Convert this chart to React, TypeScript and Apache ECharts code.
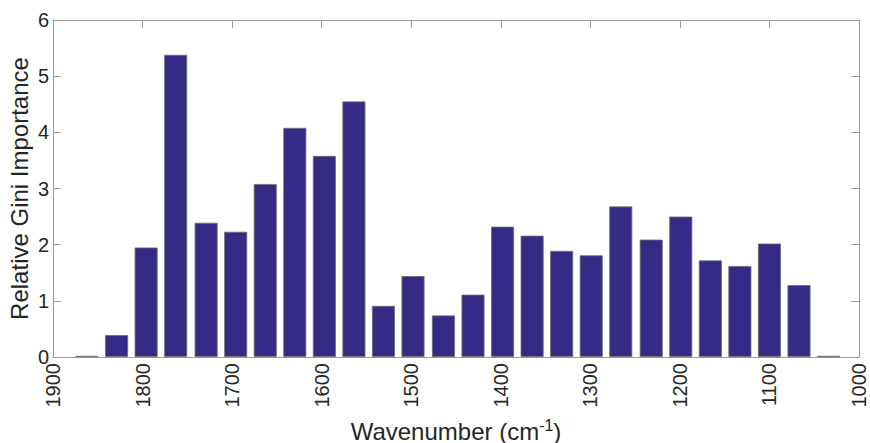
import React, { useEffect, useRef } from "react";
import * as echarts from "echarts";

const wavenumbers = [
  1862, 1829, 1796, 1763, 1729, 1696, 1663, 1630, 1597, 1564, 1531, 1498, 1464,
  1431, 1398, 1365, 1332, 1299, 1266, 1232, 1199, 1166, 1133, 1100, 1067, 1034,
];
const importance = [
  0.02, 0.39, 1.95, 5.38, 2.39, 2.23, 3.08, 4.08, 3.58, 4.55, 0.91, 1.44, 0.74,
  1.11, 2.32, 2.16, 1.89, 1.81, 2.68, 2.09, 2.5, 1.72, 1.62, 2.02, 1.28, 0.02,
];
const yTicks = [0, 1, 2, 3, 4, 5, 6];
const xTicks = [1900, 1800, 1700, 1600, 1500, 1400, 1300, 1200, 1100, 1000];

const FONT = "'Liberation Sans', Arial, Helvetica, sans-serif";
const AXIS_GRAY = "#9a9a9a";
const TEXT = "#262626";

export default function App() {
  const ref = useRef<HTMLDivElement>(null);
  useEffect(() => {
    if (!ref.current) return;
    const chart = echarts.init(ref.current, undefined, { renderer: "svg" });
    const data = wavenumbers.map((w, i) => [w, importance[i]]);
    const xMin = xTicks[xTicks.length - 1];
    const xMax = xTicks[0];
    const yMin = yTicks[0];
    const yMax = yTicks[yTicks.length - 1];
    chart.setOption({
      animation: false,
      backgroundColor: "#ffffff",
      grid: {
        left: 53,
        right: 11,
        top: 20,
        bottom: 86,
        containLabel: false,
        outerBoundsMode: "none",
      },
      xAxis: [
        {
          type: "value",
          inverse: true,
          min: xMin,
          max: xMax,
          interval: 100,
          position: "bottom",
          name: "{a|Wavenumber (cm}{b|-1}{a|)}",
          nameLocation: "middle",
          nameGap: 60,
          nameTextStyle: {
            rich: {
              a: { fontFamily: FONT, fontSize: 24, color: TEXT },
              b: { fontFamily: FONT, fontSize: 16, color: TEXT, verticalAlign: "top", padding: [0, 0, 12, 0] },
            },
          },
          axisLine: { show: true, onZero: false, lineStyle: { color: AXIS_GRAY, width: 1 } },
          axisTick: { show: true, inside: true, length: 8, lineStyle: { color: AXIS_GRAY } },
          axisLabel: {
            rotate: 90,
            margin: 6,
            fontFamily: FONT,
            fontSize: 20,
            color: TEXT,
            formatter: (v: number) => String(v),
          },
          splitLine: { show: false },
        },
        {
          type: "value",
          inverse: true,
          min: xMin,
          max: xMax,
          interval: 100,
          position: "top",
          axisLine: { show: true, onZero: false, lineStyle: { color: AXIS_GRAY, width: 1 } },
          axisTick: { show: true, inside: true, length: 8, lineStyle: { color: AXIS_GRAY } },
          axisLabel: { show: false },
          splitLine: { show: false },
        },
      ],
      yAxis: [
        {
          type: "value",
          min: yMin,
          max: yMax,
          interval: 1,
          position: "left",
          name: "Relative Gini Importance",
          nameLocation: "middle",
          nameGap: 22,
          nameMoveOverlap: false,
          nameTextStyle: { fontFamily: FONT, fontSize: 24, color: TEXT },
          axisLine: { show: true, onZero: false, lineStyle: { color: AXIS_GRAY, width: 1 } },
          axisTick: { show: true, inside: true, length: 8, lineStyle: { color: AXIS_GRAY } },
          axisLabel: { margin: 4, fontFamily: FONT, fontSize: 20, color: TEXT },
          splitLine: { show: false },
        },
        {
          type: "value",
          min: yMin,
          max: yMax,
          interval: 1,
          position: "right",
          axisLine: { show: true, onZero: false, lineStyle: { color: AXIS_GRAY, width: 1 } },
          axisTick: { show: true, inside: true, length: 8, lineStyle: { color: AXIS_GRAY } },
          axisLabel: { show: false },
          splitLine: { show: false },
        },
      ],
      series: [
        {
          type: "bar",
          xAxisIndex: 0,
          yAxisIndex: 0,
          data,
          barWidth: 23,
          itemStyle: {
            color: "#352a85",
            borderColor: "#6e6e6e",
            borderWidth: 0.8,
          },
        },
      ],
    });
    return () => chart.dispose();
  }, []);
  return (
    <div
      ref={ref}
      style={{ position: "fixed", left: 0, top: 0, width: 870, height: 443 }}
    />
  );
}
